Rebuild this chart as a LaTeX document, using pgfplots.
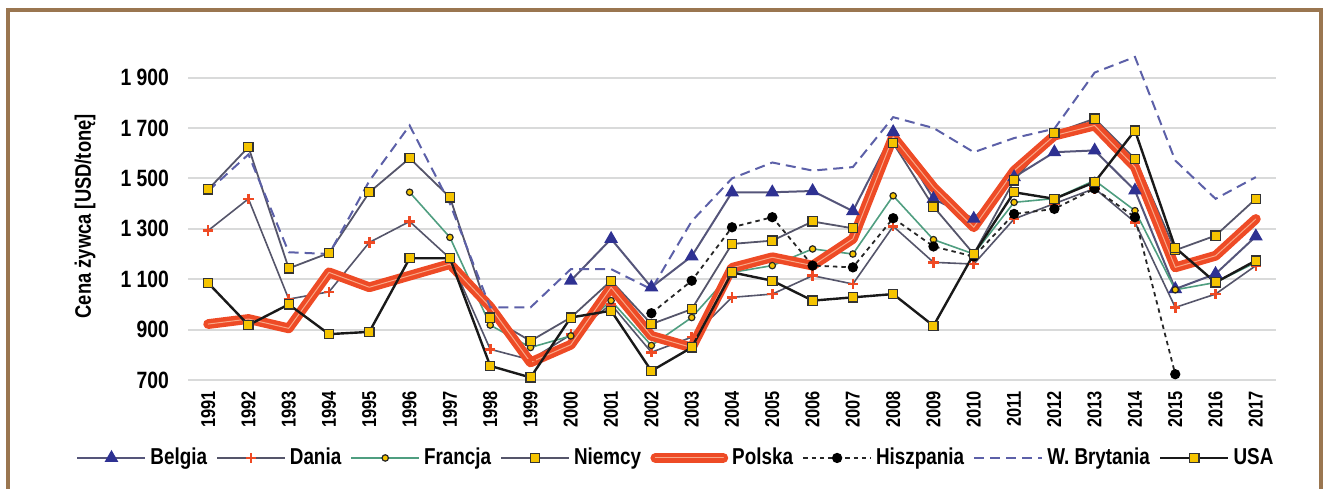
\documentclass[border=0pt]{standalone}
\usepackage{fontspec}
\setmainfont{Liberation Sans}[FakeStretch=0.82]
\usepackage{pgfplots}
\pgfplotsset{compat=1.18}
\definecolor{frame}{HTML}{9A7650}
\definecolor{belg}{HTML}{55557A}
\definecolor{belgm}{HTML}{2E3192}
\definecolor{dan}{HTML}{55556A}
\definecolor{red1}{HTML}{EF4A24}
\definecolor{fra}{HTML}{4F9E80}
\definecolor{gol}{HTML}{F5C400}
\definecolor{wb}{HTML}{5C60A8}
\definecolor{pol}{HTML}{EE4B26}
\definecolor{polin}{HTML}{F8A888}
\definecolor{gridc}{HTML}{D9DADA}
\begin{document}
\begin{tikzpicture}
\useasboundingbox (0,0) rectangle (661.5pt,244pt);
\draw[color=frame, line width=1.6pt] (4pt,-3pt) -- (4pt,239pt) -- (660.5pt,239pt) -- (660.5pt,-3pt);
\begin{axis}[
  at={(94pt,54pt)}, anchor=south west,
  scale only axis, width=544pt, height=163.8pt,
  xmin=1990.5, xmax=2017.5, ymin=700, ymax=2000,
  axis line style={draw=none}, tick style={draw=none},
  ymajorgrids, major grid style={draw=gridc, line width=1pt},
  xtick={1991,...,2017},
  xticklabels={1991,1992,1993,1994,1995,1996,1997,1998,1999,2000,2001,2002,2003,2004,2005,2006,2007,2008,2009,2010,2011,2012,2013,2014,2015,2016,2017},
  ytick={700,900,1100,1300,1500,1700,1900},
  yticklabels={700,900,1 100,1 300,1 500,1 700,1 900},
  /pgf/number format/assume math mode=true,
  xticklabel style={rotate=90, anchor=east, font=\bfseries\fontsize{10}{11}\selectfont, xshift=-2pt},
  yticklabel style={font=\bfseries\fontsize{11.8}{13}\selectfont, xshift=-6pt},
  ylabel={Cena żywca [USD/tonę]},
  every axis y label/.style={at={(axis description cs:-0.0947,0.5)}, rotate=90, anchor=center, font=\bfseries\fontsize{11.2}{12}\selectfont},
  legend columns=8,
  legend style={at={(axis description cs:0.4494,-0.238)}, anchor=center, draw=none, fill=none,
     font=\bfseries\fontsize{11.5}{12}\selectfont,
     nodes={inner xsep=2pt},
     /tikz/every odd column/.append style={column sep=0pt},
     /tikz/every even column/.append style={column sep=2.6pt}},
  legend image code/.code={\draw[mark repeat=2,mark phase=2] plot coordinates {(0pt,0pt) (17pt,0pt) (34pt,0pt)};},
]
% Belgia
\addplot[color=belg, line width=1pt, mark=triangle*, mark size=3pt, mark options={fill=belgm, draw=belgm, solid}] coordinates {
(2000,1094)(2001,1260)(2002,1068)(2003,1191)(2004,1445)(2005,1445)(2006,1450)(2007,1370)(2008,1684)(2009,1419)(2010,1340)(2011,1505)(2012,1604)(2013,1611)(2014,1452)(2015,1061)(2016,1121)(2017,1270)};
\addlegendentry{Belgia}
% Dania
\addplot[color=dan, line width=0.8pt, mark=+, mark size=2.6pt, mark options={draw=red1, line width=1.3pt, solid}] coordinates {
(1991,1293)(1992,1419)(1993,1021)(1994,1050)(1995,1246)(1996,1329)(1997,1183)(1998,822)(1999,780)(2000,880)(2001,1000)(2002,810)(2003,870)(2004,1028)(2005,1041)(2006,1114)(2007,1081)(2008,1310)(2009,1167)(2010,1160)(2011,1339)(2012,1400)(2013,1460)(2014,1326)(2015,988)(2016,1041)(2017,1154)};
\addlegendentry{Dania}
% Francja
\addplot[color=fra, line width=0.8pt, mark=*, mark size=1.6pt, mark options={fill=gol, draw=black!85, line width=0.6pt, solid}] coordinates {
(1996,1445)(1997,1266)(1998,918)(1999,829)(2000,875)(2001,1015)(2002,837)(2003,948)(2004,1127)(2005,1154)(2006,1220)(2007,1200)(2008,1431)(2009,1257)(2010,1200)(2011,1405)(2012,1420)(2013,1492)(2014,1372)(2015,1058)(2016,1087)(2017,1167)};
\addlegendentry{Francja}
% Niemcy
\addplot[color=dan, line width=0.9pt, mark=square*, mark size=2.3pt, mark options={fill=gol, draw=black!80, line width=0.6pt, solid}] coordinates {
(1991,1456)(1992,1624)(1993,1143)(1994,1204)(1995,1445)(1996,1580)(1997,1425)(1998,948)(1999,855)(2000,948)(2001,1094)(2002,922)(2003,981)(2004,1240)(2005,1253)(2006,1329)(2007,1302)(2008,1640)(2009,1388)(2010,1200)(2011,1492)(2012,1680)(2013,1737)(2014,1578)(2015,1215)(2016,1273)(2017,1419)};
\addlegendentry{Niemcy}
% Polska
\addplot[color=pol, line width=2.2pt, double=polin, double distance=0.5pt, line join=round, line cap=round] coordinates {
(1991,922)(1992,942)(1993,905)(1994,1127)(1995,1068)(1996,1114)(1997,1160)(1998,990)(1999,770)(2000,840)(2001,1068)(2002,875)(2003,829)(2004,1145)(2005,1187)(2006,1154)(2007,1260)(2008,1665)(2009,1465)(2010,1306)(2011,1530)(2012,1670)(2013,1710)(2014,1545)(2015,1147)(2016,1193)(2017,1339)};
\addlegendentry{Polska}
% Hiszpania
\addplot[color=black!85, line width=0.9pt, dash pattern=on 2.2pt off 2pt, mark=*, mark size=2.1pt, mark options={fill=black, draw=black, solid}] coordinates {
(2002,965)(2003,1094)(2004,1306)(2005,1346)(2006,1154)(2007,1147)(2008,1342)(2009,1230)(2010,1190)(2011,1359)(2012,1379)(2013,1459)(2014,1346)(2015,723)};
\addlegendentry{Hiszpania}
% W. Brytania
\addplot[color=wb, line width=1pt, dash pattern=on 5pt off 3pt] coordinates {
(1991,1450)(1992,1595)(1993,1207)(1994,1200)(1995,1490)(1996,1710)(1997,1400)(1998,988)(1999,988)(2000,1140)(2001,1140)(2002,1060)(2003,1330)(2004,1500)(2005,1563)(2006,1531)(2007,1545)(2008,1743)(2009,1700)(2010,1604)(2011,1660)(2012,1697)(2013,1920)(2014,1982)(2015,1571)(2016,1419)(2017,1505)};
\addlegendentry{W. Brytania}
% USA
\addplot[color=black!90, line width=1.2pt, mark=square*, mark size=2.3pt, mark options={fill=gol, draw=black!80, line width=0.6pt, solid}] coordinates {
(1991,1085)(1992,918)(1993,1000)(1994,882)(1995,891)(1996,1183)(1997,1183)(1998,756)(1999,710)(2000,948)(2001,975)(2002,736)(2003,829)(2004,1127)(2005,1094)(2006,1015)(2007,1028)(2008,1041)(2009,915)(2010,1200)(2011,1445)(2012,1419)(2013,1485)(2014,1690)(2015,1225)(2016,1087)(2017,1174)};
\addlegendentry{USA}
\end{axis}
\end{tikzpicture}
\end{document}
